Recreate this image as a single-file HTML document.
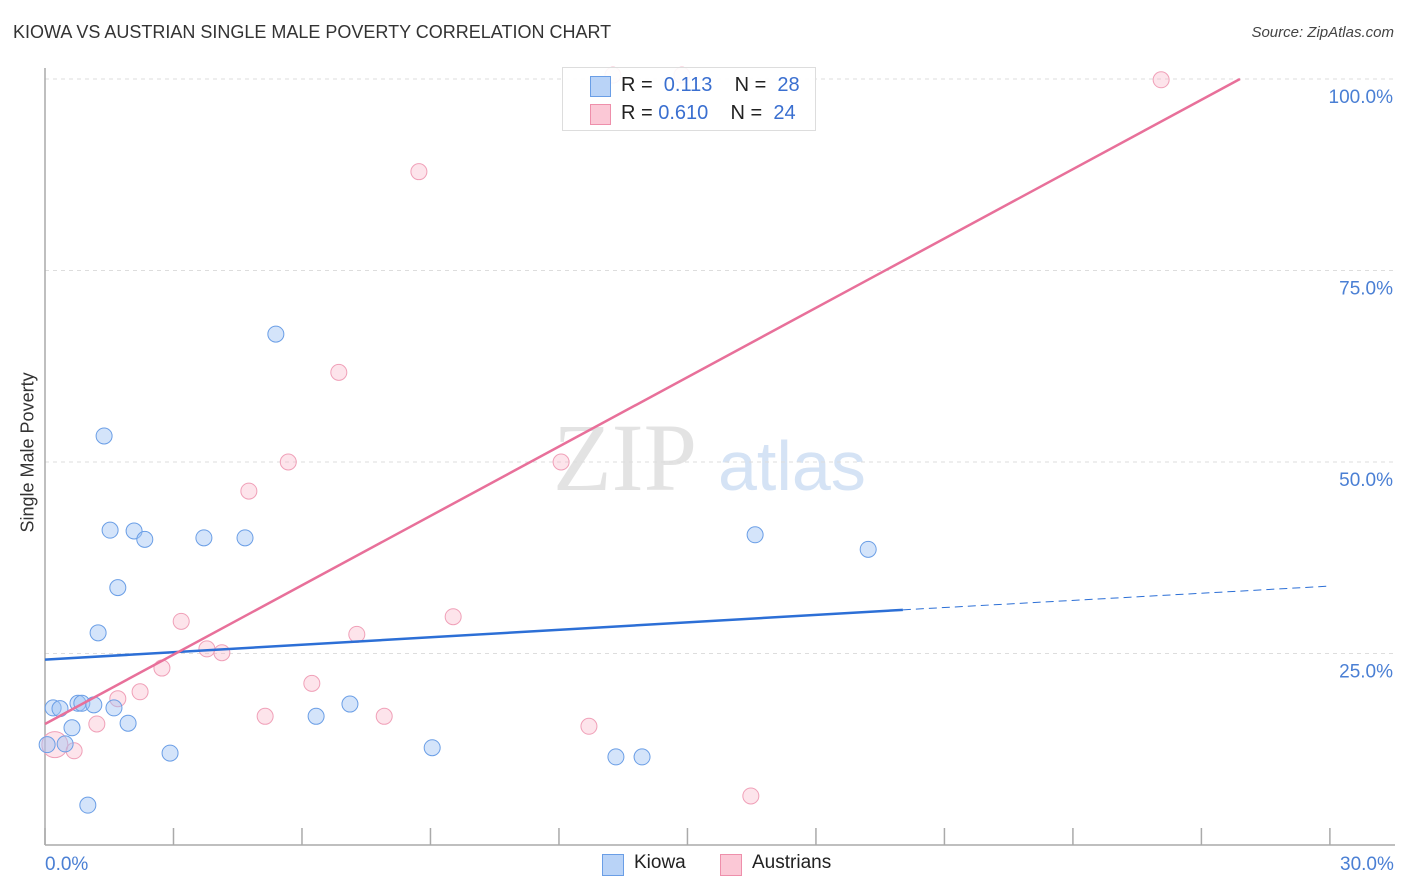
<!DOCTYPE html>
<html><head><meta charset="utf-8">
<style>
body{margin:0;background:#fff;font-family:"Liberation Sans",sans-serif;}
#wrap{position:relative;width:1406px;height:892px;overflow:hidden;}
.t{position:absolute;white-space:nowrap;}
</style></head>
<body>
<div id="wrap">
<div class="t" style="left:13px;top:22px;font-size:18px;color:#333;">KIOWA VS AUSTRIAN SINGLE MALE POVERTY CORRELATION CHART</div>
<div class="t" style="right:12px;top:24px;font-size:15px;color:#444;font-style:italic;">Source: ZipAtlas.com</div>
<div class="t" style="left:-50px;top:444px;font-size:18px;color:#333;transform:rotate(-90deg);width:156px;text-align:center;">Single Male Poverty</div>
<svg id="chart" width="1406" height="892" style="position:absolute;left:0;top:0"></svg>
<div style="position:absolute;left:562px;top:67px;width:252px;height:62px;border:1px solid #ddd;background:rgba(255,255,255,0.9);font-size:20px;">
 <div style="position:absolute;left:27px;top:8px;width:19px;height:19px;background:#b9d3f7;border:1px solid #6a9ee6;"></div>
 <div class="t" style="left:58px;top:6px;color:#222;">R = &nbsp;<span style="color:#3a6fd0">0.113</span>&nbsp;&nbsp;&nbsp; N = &nbsp;<span style="color:#3a6fd0">28</span></div>
 <div style="position:absolute;left:27px;top:36px;width:19px;height:19px;background:#fbc8d6;border:1px solid #ee8fab;"></div>
 <div class="t" style="left:58px;top:34px;color:#222;">R = <span style="color:#3a6fd0">0.610</span>&nbsp;&nbsp;&nbsp; N = &nbsp;<span style="color:#3a6fd0">24</span></div>
</div>
<div style="position:absolute;left:602px;top:852px;font-size:19px;color:#222;">
 <span style="position:absolute;left:0;top:0;width:120px;"><span style="position:absolute;left:0;top:2px;width:20px;height:20px;background:#b9d3f7;border:1px solid #6a9ee6;"></span><span style="position:absolute;left:32px;top:0;">Kiowa</span></span>
 <span style="position:absolute;left:118px;top:0;width:140px;"><span style="position:absolute;left:0;top:2px;width:20px;height:20px;background:#fbc8d6;border:1px solid #ee8fab;"></span><span style="position:absolute;left:32px;top:0;">Austrians</span></span>
</div>
</div>
<script>
const xTicks=[0,3,6,9,12,15,18,21,24,27,30];
const yTickVals=[25,50,75,100];
const yTickLabels=["25.0%","50.0%","75.0%","100.0%"];
const xEndLabels=["0.0%","30.0%"];
const kiowaX=[0.19,0.35,0.05,0.47,0.63,0.77,0.86,1.14,1.61,1.0,1.24,1.38,1.52,2.08,2.33,1.70,1.94,2.92,3.71,4.67,5.39,6.33,7.12,9.04,13.33,13.94,16.58,19.22];
const kiowaY=[17.9,17.8,13.1,13.2,15.3,18.5,18.5,18.3,17.9,5.2,27.7,53.4,41.1,41.0,39.9,33.6,15.9,12.0,40.1,40.1,66.7,16.8,18.4,12.7,11.5,11.5,40.5,38.6];
const austX=[0.23,0.68,1.21,1.70,2.22,2.73,3.18,3.78,4.13,4.76,5.14,5.68,6.23,6.86,7.28,7.92,8.73,9.53,12.05,12.70,16.48,26.06,13.26,14.87];
const austY=[13.1,12.3,15.8,19.1,20.0,23.1,29.2,25.6,25.1,46.2,16.8,50.0,21.1,61.7,27.5,16.8,87.9,29.8,50.0,15.5,6.4,99.9,100.5,100.5];
const kiowaTrend=[[0,24.2],[20.03,30.7]];
const kiowaTrendExt=[[20.03,30.7],[30,33.8]];
const austTrend=[[0,15.8],[27.9,100]];

const X=v=>45+v*42.83;
const Y=v=>845-v*7.66;
const svg=document.getElementById('chart');
const NS='http://www.w3.org/2000/svg';
function mk(tag,attrs){const e=document.createElementNS(NS,tag);for(const k in attrs)e.setAttribute(k,attrs[k]);svg.appendChild(e);return e;}

// watermark
let wm=mk('text',{x:553,y:490,'font-size':96,'font-family':'Liberation Serif, serif',fill:'#e3e3e3'});
wm.textContent='ZIP';


let wm2=mk('text',{x:718,y:490,'font-size':70,'font-family':'Liberation Sans, sans-serif',fill:'#d5e3f5'});
wm2.textContent='atlas';



yTickVals.forEach((v,i)=>{
 let g=mk('line',{x1:45,x2:1395,y1:Y(v),y2:Y(v),stroke:'#ddd','stroke-dasharray':'4,4'});
 
 
 let t=mk('text',{x:1393,y:Y(v)+24,'text-anchor':'end','font-size':19,fill:'#4a7fd4','font-family':'Liberation Sans, sans-serif'});
 t.textContent=yTickLabels[i];
 
 
});
let ax=mk('line',{x1:45,x2:45,y1:68,y2:845,stroke:'#aaa','stroke-width':1.5});


let bx=mk('line',{x1:45,x2:1395,y1:845,y2:845,stroke:'#aaa','stroke-width':1.5});


xTicks.forEach(v=>{
 let t=mk('line',{x1:X(v),x2:X(v),y1:828,y2:845,stroke:'#aaa','stroke-width':1.5});
 
 
});
[[0,'start'],[30,'end']].forEach((p,i)=>{
 let t=mk('text',{x:i?X(p[0])+64:X(p[0]),y:870,'text-anchor':p[1],'font-size':19,fill:'#4a7fd4','font-family':'Liberation Sans, sans-serif'});
 t.textContent=xEndLabels[i];
 
 
});

austX.forEach((x,i)=>{
 let c=mk('circle',{cx:X(x),cy:Y(austY[i]),r:i===0?13:8,fill:'rgba(249,178,199,0.35)',stroke:'#f0a0b8','stroke-width':1});
 
 
});
kiowaX.forEach((x,i)=>{
 let c=mk('circle',{cx:X(x),cy:Y(kiowaY[i]),r:8,fill:'rgba(160,196,245,0.45)',stroke:'#6a9ee6','stroke-width':1});
 
 
});
let l1=mk('line',{x1:X(kiowaTrend[0][0]),y1:Y(kiowaTrend[0][1]),x2:X(kiowaTrend[1][0]),y2:Y(kiowaTrend[1][1]),stroke:'#2c6fd6','stroke-width':2.5});


let l2=mk('line',{x1:X(kiowaTrendExt[0][0]),y1:Y(kiowaTrendExt[0][1]),x2:X(kiowaTrendExt[1][0]),y2:Y(kiowaTrendExt[1][1]),stroke:'#2c6fd6','stroke-width':1,'stroke-dasharray':'8,5'});


let l3=mk('line',{x1:X(austTrend[0][0]),y1:Y(austTrend[0][1]),x2:X(austTrend[1][0]),y2:Y(austTrend[1][1]),stroke:'#e8709a','stroke-width':2.5});


</script>
</body></html>
